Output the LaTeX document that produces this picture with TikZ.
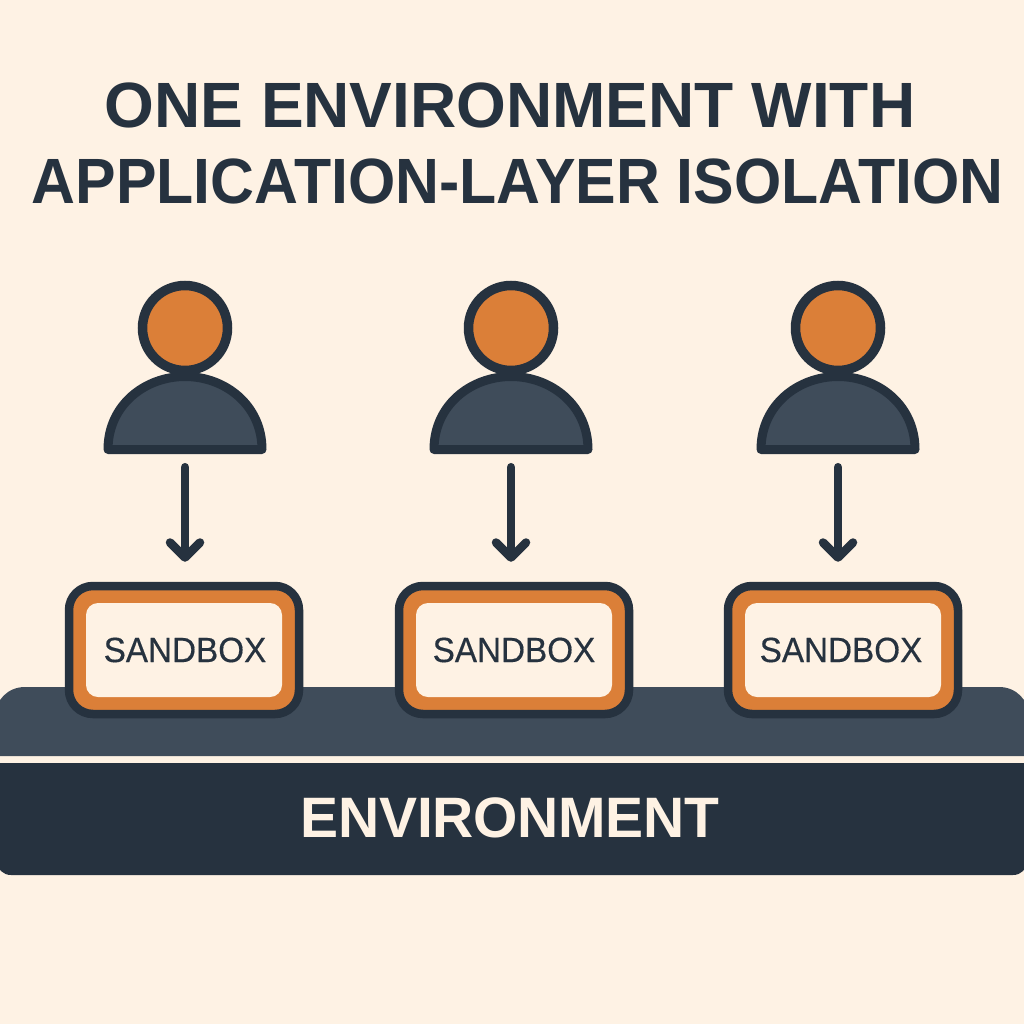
\documentclass[tikz,border=0pt]{standalone}
\usepackage{fontspec}
\setmainfont{Liberation Sans}
\usetikzlibrary{arrows.meta}
\definecolor{bg}{HTML}{FEF2E4}
\definecolor{ink}{HTML}{26323F}
\definecolor{slate}{HTML}{3F4C5A}
\definecolor{accent}{HTML}{DB7F38}
\tikzset{
  titletext/.style={text=ink,font=\fontsize{64}{64}\selectfont\bfseries,inner sep=0pt,anchor=center},
  envtext/.style={text=bg,font=\fontsize{57}{57}\selectfont\bfseries,inner sep=0pt},
  sandtext/.style={text=ink,font=\fontsize{35}{35}\selectfont,inner sep=0pt},
  outerbox/.style={fill=accent,draw=ink,line width=8.5pt,rounded corners=24pt,minimum width=230pt,minimum height=128pt,inner sep=0pt},
  innerbox/.style={fill=bg,rounded corners=12pt,minimum width=196pt,minimum height=94pt,inner sep=0pt},
  headdot/.style={circle,fill=accent,draw=ink,line width=9.5pt,minimum size=85pt,inner sep=0pt},
  bodyshape/.style={fill=slate,draw=ink,line width=9pt,line join=round},
  anchorpt/.style={inner sep=0pt,minimum size=0pt},
  flow/.style={draw=ink,line width=8.5pt,line cap=round,shorten >=20pt,shorten <=9pt,-{Straight Barb[length=15pt,width=30pt,round,line width=8.5pt]}}
}
\begin{document}
\begin{tikzpicture}[x=1pt,y=-1pt]
\useasboundingbox (0,0) rectangle (1024,1024);
\fill[bg] (0,0) rectangle (1024,1024);
\node[titletext] (t1) at (510,105) {ONE ENVIRONMENT WITH};
\node[titletext] (t2) at (517.5,181) {\addfontfeature{FakeStretch=0.95}APPLICATION-LAYER ISOLATION};
% platform and environment bar
\fill[slate] (-5,756) -- (-5,717) .. controls (-5,700) and (8,687) .. (25,687) -- (999,687) .. controls (1016,687) and (1029,700) .. (1029,717) -- (1029,756) -- cycle;
\fill[ink] (-3,763) -- (-3,861) .. controls (-3,869) and (3,875) .. (11,875) -- (1013,875) .. controls (1021,875) and (1027,869) .. (1027,861) -- (1027,763) -- cycle;
\node[envtext] (env) at (510,818) {\addfontfeature{LetterSpace=-0.5}ENVIRONMENT};
% persons
\foreach \n/\x/\sx/\lx in {1/185/184/185,2/511/514/514,3/838/843/841}{
  \draw[bodyshape] (\x-77,449.5) .. controls (\x-77,405) and (\x-40,376.5) .. (\x,376.5) .. controls (\x+40,376.5) and (\x+77,405) .. (\x+77,449.5) -- cycle;
  \node[headdot] (head\n) at (\x,328) {};
  \node[anchorpt] (base\n) at (\x,458) {};
  \node[outerbox] (box\n) at (\sx,650) {};
  \node[innerbox] (inner\n) at (\sx,650) {};
  \node[sandtext] (label\n) at (\lx,650) {\addfontfeature{FakeStretch=0.95,FakeBold=0.4}SANDBOX};
  \draw[flow] (base\n.south) -- (base\n.south |- box\n.north);
}
\end{tikzpicture}
\end{document}
